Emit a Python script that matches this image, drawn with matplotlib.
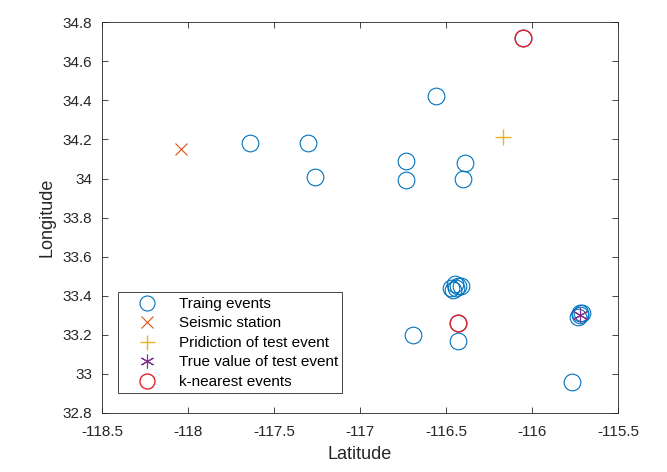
import matplotlib
matplotlib.use("Agg")
from matplotlib import pyplot as plt

plt.rcParams['font.family'] = ['Liberation Sans', 'DejaVu Sans']

# training events (lat, lon)
train_lat = [-117.64, -117.30, -117.26, -116.56, -116.73, -116.73, -116.39, -116.40,
             -116.47, -116.45, -116.43, -116.46, -116.41, -116.44,
             -116.69, -116.43, -115.77,
             -115.73, -115.72, -115.71, -115.72, -116.05, -116.43]
train_lon = [34.18, 34.18, 34.01, 34.42, 34.09, 33.99, 34.08, 34.00,
             33.44, 33.46, 33.45, 33.43, 33.45, 33.44,
             33.20, 33.17, 32.96,
             33.29, 33.30, 33.31, 33.31, 34.72, 33.26]

station_lat = [-118.04]
station_lon = [34.15]

pred_lat = [-116.17]
pred_lon = [34.21]

true_lat = [-115.72]
true_lon = [33.30]

knn_lat = [-116.05, -116.43]
knn_lon = [34.72, 33.26]

fig = plt.figure(figsize=(6.67, 4.72), dpi=100)
ax = fig.add_axes([0.153, 0.125, 0.7735, 0.828])

ax.plot(train_lat, train_lon, 'o', mfc='none', mec='#0072BD', ms=12, mew=0.8, label='Traing events')
ax.plot(station_lat, station_lon, 'x', color='#D95319', ms=9, mew=0.8, label='Seismic station')
ax.plot(pred_lat, pred_lon, '+', color='#EDB120', ms=12, mew=1.0, label='Pridiction of test event')
ax.plot(true_lat, true_lon, color='#7E2F8E', ms=11, mew=0.8, marker=(6, 2, 0), ls='none',
        label='True value of test event')
ax.plot(knn_lat, knn_lon, 'o', mfc='none', mec='#E8202A', ms=12, mew=1.0, label='k-nearest events')

ax.set_xlim(-118.5, -115.5)
ax.set_ylim(32.8, 34.8)
ax.set_xticks([-118.5, -118, -117.5, -117, -116.5, -116, -115.5])
ax.set_xticklabels(['-118.5', '-118', '-117.5', '-117', '-116.5', '-116', '-115.5'])
ax.set_yticks([32.8, 33, 33.2, 33.4, 33.6, 33.8, 34, 34.2, 34.4, 34.6, 34.8])
ax.set_yticklabels(['32.8', '33', '33.2', '33.4', '33.6', '33.8', '34', '34.2', '34.4', '34.6', '34.8'])
ax.tick_params(direction='in', top=True, right=True, labelsize=11, colors='#262626',
               length=4, width=0.6)
ax.tick_params(axis='x', pad=8.5)
ax.tick_params(axis='y', pad=7)
for s in ax.spines.values():
    s.set_color('#262626')
    s.set_linewidth(0.6)

ax.set_xlabel('Latitude', fontsize=13, color='#262626', labelpad=5)
ax.set_ylabel('Longitude', fontsize=13, color='#262626', labelpad=5)

leg = ax.legend(loc='lower left', bbox_to_anchor=(0.03, 0.05), fontsize=11, fancybox=False,
                edgecolor='#262626', framealpha=1, borderpad=0.3, labelspacing=0.36,
                handletextpad=0.5, handlelength=3.2, borderaxespad=0, markerscale=0.9)
leg.get_frame().set_linewidth(0.6)

plt.savefig('out.png', dpi=100)
